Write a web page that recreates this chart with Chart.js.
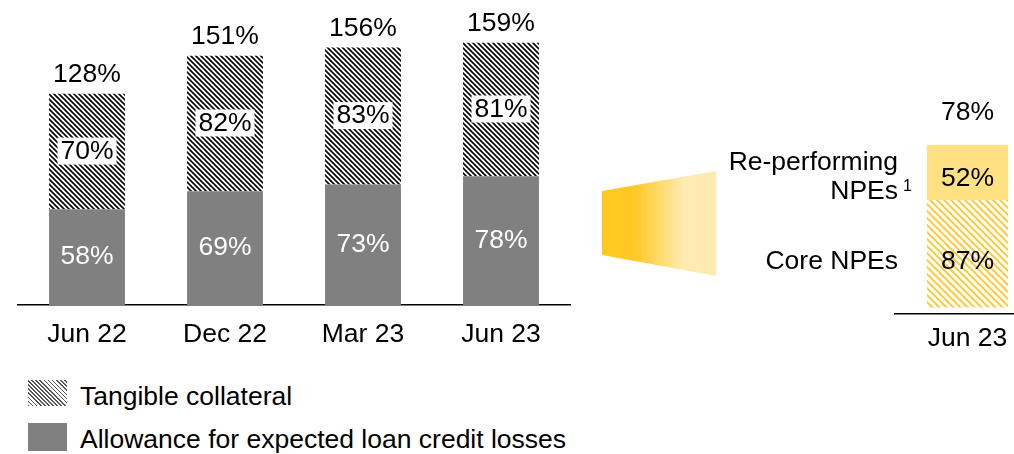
<!DOCTYPE html>
<html>
<head>
<meta charset="utf-8">
<script src="https://cdn.jsdelivr.net/npm/chart.js@4.4.1/dist/chart.umd.min.js"></script>
<style>
  html, body { margin: 0; padding: 0; background: #fff; overflow: hidden; }
  body { width: 1014px; height: 454px; position: relative; font-family: "Liberation Sans", Arial, sans-serif; }
  #left { position: absolute; left: 0; top: 0; }
  #right { position: absolute; left: 590px; top: 0; }
  .sw { position: absolute; left: 28px; width: 39px; }
  .sw.hatch { top: 380px; height: 26px; background: repeating-linear-gradient(45deg, #555 0 1.2px, #fff 1.2px 2.9px); }
  .sw.solid { top: 423px; height: 28px; background: #808080; }
  .lg { position: absolute; left: 80px; font-size: 26.5px; line-height: 30px; color: #000; white-space: nowrap; }
</style>
</head>
<body>
<canvas id="left" width="590" height="360"></canvas>
<canvas id="right" width="450" height="360"></canvas>
<div class="sw hatch"></div>
<div class="lg" style="top:381px">Tangible collateral</div>
<div class="sw solid"></div>
<div class="lg" style="top:424px">Allowance for expected loan credit losses</div>

<script>
// left chart: coverage of NPEs
const categories = ['Jun 22', 'Dec 22', 'Mar 23', 'Jun 23'];
const allowance = [58, 69, 73, 78];
const collateral = [70, 82, 83, 81];
const totals = [128, 151, 156, 159];

// right chart: Jun 23 split of NPEs (bar share) and their coverage (labels)
const npeCategory = ['Jun 23'];
const coreShare = [66];
const reperformingShare = [34];
const coreCoverage = [87];
const reperformingCoverage = [52];
const npeTotal = [78];

const FONT = '"Liberation Sans", Arial, sans-serif';
const SIZE = 26.5;

function makeHatch(fg, size, lw) {
  const c = document.createElement('canvas');
  c.width = size; c.height = size;
  const g = c.getContext('2d');
  g.fillStyle = '#fff';
  g.fillRect(0, 0, size, size);
  g.strokeStyle = fg;
  g.lineWidth = lw;
  g.beginPath();
  [-size, 0, size].forEach(k => {
    g.moveTo(k - 1, -1);
    g.lineTo(k + size + 1, size + 1);
  });
  g.stroke();
  return g.createPattern(c, 'repeat');
}

const hatchGray = makeHatch('#000', 5, 1.6);
const hatchYellow = makeHatch('#FFCB3D', 7, 2);

// value labels in the middle of each segment + totals above the stack
const barLabels = {
  id: 'barLabels',
  afterDatasetsDraw(chart, args, opts) {
    const ctx = chart.ctx;
    ctx.save();
    ctx.font = SIZE + 'px ' + FONT;
    ctx.textAlign = 'center';
    ctx.textBaseline = 'middle';
    chart.data.datasets.forEach((ds, i) => {
      const meta = chart.getDatasetMeta(i);
      meta.data.forEach((bar, j) => {
        const txt = ds.valueText[j];
        const y = (bar.y + bar.base) / 2 + (ds.labelShift || 0);
        if (ds.boxed) {
          const w = ctx.measureText(txt).width + 6;
          ctx.fillStyle = '#fff';
          ctx.fillRect(bar.x - w / 2, y - 14, w, 27);
        }
        ctx.fillStyle = ds.textColor || '#000';
        ctx.fillText(txt, bar.x, y);
        if (ds.sideLabel) {
          const x = chart.chartArea.left + 3;
          ctx.textAlign = 'right';
          ctx.fillStyle = '#000';
          const lines = ds.sideLabel;
          lines.forEach((ln, k) => {
            ctx.fillText(ln, x, y + (k - (lines.length - 1) / 2) * 29 - (lines.length > 1 ? 1 : 0));
          });
          if (ds.note) {
            ctx.font = '16px ' + FONT;
            ctx.textAlign = 'left';
            ctx.fillText(ds.note, x + 5, y + 8);
            ctx.font = SIZE + 'px ' + FONT;
          }
          ctx.textAlign = 'center';
        }
      });
    });
    if (opts.totals) {
      const last = chart.getDatasetMeta(chart.data.datasets.length - 1);
      last.data.forEach((bar, j) => {
        ctx.fillStyle = '#000';
        ctx.fillText(opts.totals[j] + '%', bar.x, bar.y - opts.offset);
      });
    }
    ctx.restore();
  }
};

// yellow "zoom" wedge pointing at the NPE bar
const wedge = {
  id: 'wedge',
  beforeDatasetsDraw(chart) {
    const ctx = chart.ctx;
    ctx.save();
    const grad = ctx.createLinearGradient(12, 0, 126, 0);
    grad.addColorStop(0, '#FFC823');
    grad.addColorStop(0.28, '#FFC823');
    grad.addColorStop(0.72, '#FFEBB2');
    grad.addColorStop(1, '#FFEBB2');
    ctx.fillStyle = grad;
    ctx.beginPath();
    ctx.moveTo(12, 191);
    ctx.lineTo(126, 171);
    ctx.lineTo(126, 276);
    ctx.lineTo(12, 255);
    ctx.closePath();
    ctx.fill();
    ctx.restore();
  }
};

new Chart(document.getElementById('left'), {
  type: 'bar',
  data: {
    labels: categories,
    datasets: [
      {
        label: 'Allowance for expected loan credit losses',
        data: allowance,
        backgroundColor: '#808080',
        valueText: allowance.map(v => v + '%'),
        textColor: '#fff'
      },
      {
        label: 'Tangible collateral',
        data: collateral,
        backgroundColor: hatchGray,
        valueText: collateral.map(v => v + '%'),
        boxed: true
      }
    ]
  },
  options: {
    responsive: false,
    animation: false,
    layout: { padding: { left: 18, right: 20, top: 8, bottom: 0 } },
    datasets: { bar: { categoryPercentage: 1, barPercentage: 0.55 } },
    plugins: {
      legend: { display: false },
      tooltip: { enabled: false },
      barLabels: { totals: totals, offset: 19 }
    },
    scales: {
      x: {
        stacked: true,
        grid: { display: false, drawTicks: false },
        border: { display: true, color: '#000', width: 1.5 },
        ticks: { color: '#000', font: { size: SIZE, family: FONT }, padding: 14 },
        afterFit: s => { s.height = 55; }
      },
      y: { stacked: true, display: false, min: 0, max: 180 }
    }
  },
  plugins: [barLabels]
});

new Chart(document.getElementById('right'), {
  type: 'bar',
  data: {
    labels: npeCategory,
    datasets: [
      {
        label: 'Core NPEs',
        data: coreShare,
        backgroundColor: hatchYellow,
        valueText: coreCoverage.map(v => v + '%'),
        sideLabel: ['Core NPEs'],
        labelShift: 8
      },
      {
        label: 'Re-performing NPEs',
        data: reperformingShare,
        backgroundColor: '#FFE083',
        valueText: reperformingCoverage.map(v => v + '%'),
        sideLabel: ['Re-performing', 'NPEs'],
        note: '1',
        labelShift: 6
      }
    ]
  },
  options: {
    responsive: false,
    animation: false,
    layout: { padding: { left: 305, right: 0, top: 21, bottom: 0 } },
    datasets: { bar: { categoryPercentage: 1, barPercentage: 0.56 } },
    plugins: {
      legend: { display: false },
      tooltip: { enabled: false },
      barLabels: { totals: npeTotal, offset: 32 }
    },
    scales: {
      x: {
        stacked: true,
        grid: { display: false, drawTicks: false },
        border: { display: true, color: '#000', width: 1.5 },
        ticks: { color: '#000', font: { size: SIZE, family: FONT }, padding: 9 },
        afterFit: s => { s.height = 46; }
      },
      y: { stacked: true, display: false, min: -4, max: 176 }
    }
  },
  plugins: [wedge, barLabels]
});
</script>
</body>
</html>
